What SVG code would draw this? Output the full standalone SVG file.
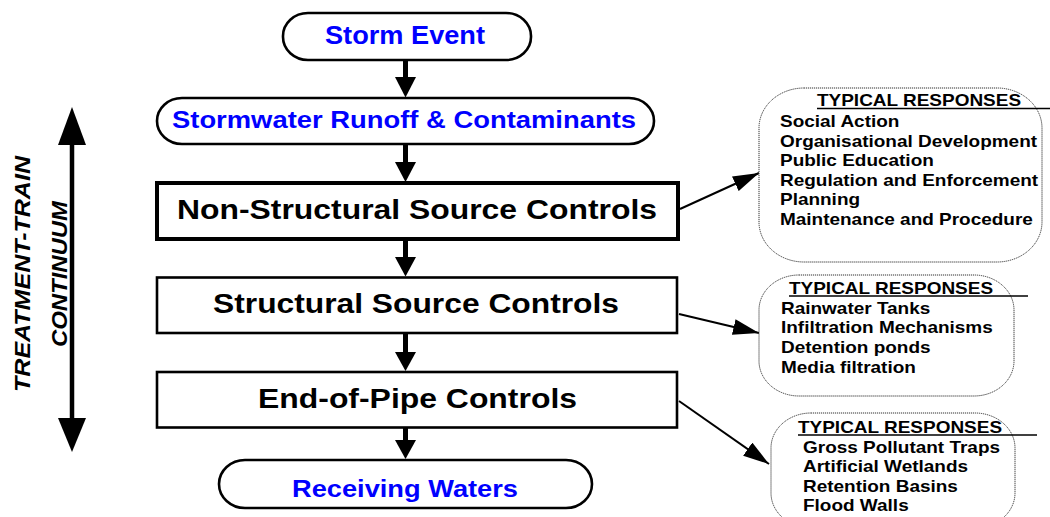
<svg xmlns="http://www.w3.org/2000/svg" width="1050" height="517" viewBox="0 0 1050 517">
<defs>
<style>
.term{fill:#fff;stroke:#000;stroke-width:2.6}
.box{fill:#fff;stroke:#000;stroke-width:2.6}
.blue{font-family:"Liberation Sans",Arial,sans-serif;font-weight:bold;fill:#0000ff;text-anchor:middle}
.blk{font-family:"Liberation Sans",Arial,sans-serif;font-weight:bold;fill:#000;text-anchor:middle}
.bub{fill:#fff;stroke:#333;stroke-width:1;stroke-dasharray:1.2 0.8}
.bt{font-family:"Liberation Sans",Arial,sans-serif;font-weight:bold;font-size:16.5px;fill:#000}
.flow{stroke:#000;stroke-width:5}
.thin{stroke:#000;stroke-width:2;fill:none}
.side{font-family:"Liberation Sans",Arial,sans-serif;font-weight:bold;font-style:italic;font-size:22px;fill:#000;text-anchor:middle}
</style>
<marker id="ah" viewBox="0 0 26 16" markerWidth="26" markerHeight="16" refX="26" refY="8" markerUnits="userSpaceOnUse" orient="auto">
<path d="M0,0 L26,8 L0,16 z" fill="#000"/>
</marker>
</defs>
<rect width="1050" height="517" fill="#fff"/>

<g id="continuum">
<line x1="72" y1="140" x2="72" y2="422" stroke="#000" stroke-width="4.5"/>
<polygon points="58,145 86,145 72,107" fill="#000"/>
<polygon points="58,418 86,418 72,452" fill="#000"/>
<text class="side" transform="translate(30,274) rotate(-90)" textLength="236" lengthAdjust="spacingAndGlyphs">TREATMENT-TRAIN</text>
<text class="side" transform="translate(67,274) rotate(-90)" textLength="146" lengthAdjust="spacingAndGlyphs">CONTINUUM</text>
</g>

<g id="connectors">
<line class="flow" x1="405.5" y1="60" x2="405.5" y2="79"/>
<polygon points="395,77 416,77 405.5,97.5"/>
<line class="flow" x1="405.5" y1="145" x2="405.5" y2="164"/>
<polygon points="395,162 416,162 405.5,182"/>
<line class="flow" x1="405.5" y1="240" x2="405.5" y2="259"/>
<polygon points="395,257 416,257 405.5,276.5"/>
<line class="flow" x1="405.5" y1="334" x2="405.5" y2="354"/>
<polygon points="395,352 416,352 405.5,371"/>
<line class="flow" x1="405.5" y1="428" x2="405.5" y2="442"/>
<polygon points="395,440 416,440 405.5,459"/>
<line class="thin" x1="680" y1="209" x2="759" y2="173" marker-end="url(#ah)"/>
<line class="thin" x1="679" y1="314" x2="759" y2="333" marker-end="url(#ah)"/>
<line class="thin" x1="679" y1="401" x2="769" y2="464" marker-end="url(#ah)"/>
</g>

<g id="storm-event">
<rect class="term" x="283" y="13" width="248" height="47" rx="25" ry="23"/>
<text class="blue" x="405" y="44" font-size="25.5" textLength="160" lengthAdjust="spacingAndGlyphs">Storm Event</text>
</g>

<g id="stormwater-runoff">
<rect class="term" x="157" y="98" width="497" height="46" rx="25" ry="23"/>
<text class="blue" x="404" y="128" font-size="23.5" textLength="464" lengthAdjust="spacingAndGlyphs">Stormwater Runoff &amp; Contaminants</text>
</g>

<g id="non-structural">
<rect class="box" x="157" y="183" width="521" height="56" style="stroke-width:4"/>
<text class="blk" x="417" y="218.5" font-size="28.5" textLength="480" lengthAdjust="spacingAndGlyphs">Non-Structural Source Controls</text>
</g>

<g id="structural">
<rect class="box" x="157" y="277.5" width="520" height="55.5"/>
<text class="blk" x="416" y="313" font-size="27" textLength="406" lengthAdjust="spacingAndGlyphs">Structural Source Controls</text>
</g>

<g id="end-of-pipe">
<rect class="box" x="157" y="372" width="520" height="55.5"/>
<text class="blk" x="417.5" y="408" font-size="27" textLength="319" lengthAdjust="spacingAndGlyphs">End-of-Pipe Controls</text>
</g>

<g id="receiving-waters">
<rect class="term" x="219" y="460" width="373" height="48" rx="26" ry="24"/>
<text class="blue" x="405" y="497" font-size="24" textLength="226" lengthAdjust="spacingAndGlyphs">Receiving Waters</text>
</g>

<g id="responses-nonstructural">
<rect class="bub" x="759" y="88" width="283" height="174" rx="45" ry="40"/>
<text class="bt" transform="translate(817,106) scale(1.15,1)" x="0" y="0">TYPICAL RESPONSES</text>
<line x1="817" y1="108.5" x2="1050" y2="108.5" stroke="#000" stroke-width="1.5"/>
<g transform="translate(780,0) scale(1.15,1)">
<text class="bt" x="0" y="127">Social Action</text>
<text class="bt" x="0" y="147">Organisational Development</text>
<text class="bt" x="0" y="166">Public Education</text>
<text class="bt" x="0" y="186">Regulation and Enforcement</text>
<text class="bt" x="0" y="205">Planning</text>
<text class="bt" x="0" y="225">Maintenance and Procedure</text>
</g>
</g>

<g id="responses-structural">
<rect class="bub" x="759" y="275" width="255" height="121" rx="40" ry="35"/>
<text class="bt" transform="translate(789,294) scale(1.15,1)" x="0" y="0">TYPICAL RESPONSES</text>
<line x1="789" y1="296" x2="1028" y2="296" stroke="#000" stroke-width="1.5"/>
<g transform="translate(781,0) scale(1.15,1)">
<text class="bt" x="0" y="314">Rainwater Tanks</text>
<text class="bt" x="0" y="333">Infiltration Mechanisms</text>
<text class="bt" x="0" y="353">Detention ponds</text>
<text class="bt" x="0" y="373">Media filtration</text>
</g>
</g>

<g id="responses-endofpipe">
<rect class="bub" x="771" y="413" width="244" height="115" rx="40" ry="35"/>
<text class="bt" transform="translate(798,433) scale(1.15,1)" x="0" y="0">TYPICAL RESPONSES</text>
<line x1="798" y1="435" x2="1037" y2="435" stroke="#000" stroke-width="1.5"/>
<g transform="translate(803,0) scale(1.15,1)">
<text class="bt" x="0" y="453">Gross Pollutant Traps</text>
<text class="bt" x="0" y="472.5">Artificial Wetlands</text>
<text class="bt" x="0" y="492">Retention Basins</text>
<text class="bt" x="0" y="511">Flood Walls</text>
</g>
</g>
</svg>
